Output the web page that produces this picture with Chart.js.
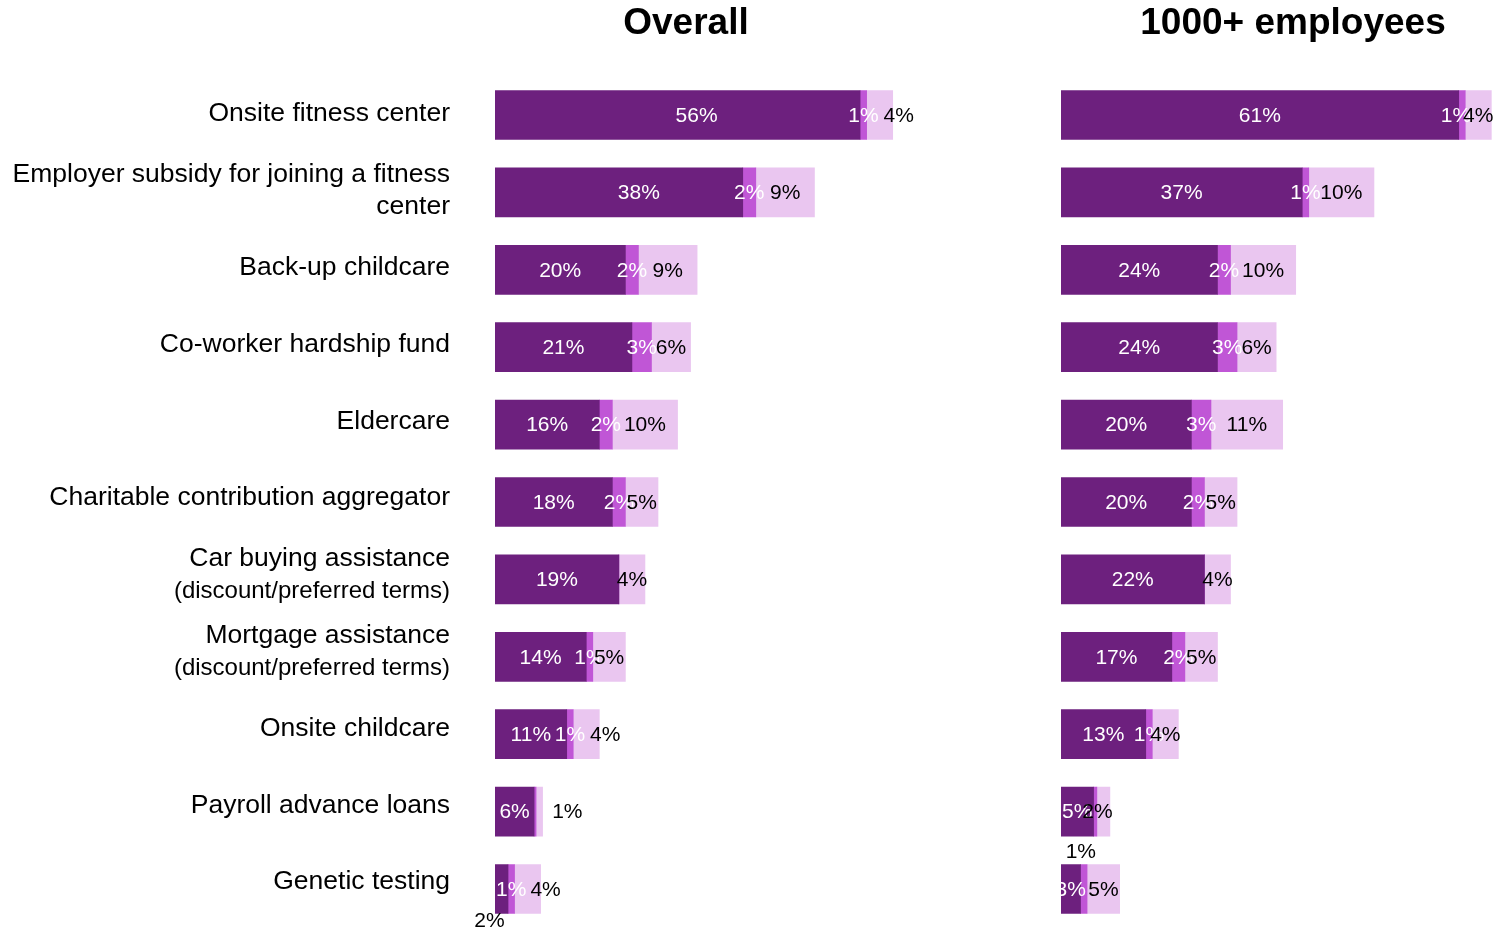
<!DOCTYPE html>
<html>
<head>
<meta charset="utf-8">
<script src="https://cdn.jsdelivr.net/npm/chart.js@4.4.1/dist/chart.umd.min.js"></script>
<style>
  html, body { margin: 0; padding: 0; background: #fff; }
  #wrap { position: relative; width: 1498px; height: 930px; overflow: hidden; }
  #left { position: absolute; left: 0; top: 0; }
  #right { position: absolute; left: 1000px; top: 0; }
</style>
</head>
<body>
<div id="wrap">
  <canvas id="left" width="1000" height="930"></canvas>
  <canvas id="right" width="498" height="930"></canvas>
</div>
<script>
// categories, each entry is the lines of its label
var categories = [
  ['Onsite fitness center'],
  ['Employer subsidy for joining a fitness', 'center'],
  ['Back-up childcare'],
  ['Co-worker hardship fund'],
  ['Eldercare'],
  ['Charitable contribution aggregator'],
  ['Car buying assistance', '(discount/preferred terms)'],
  ['Mortgage assistance', '(discount/preferred terms)'],
  ['Onsite childcare'],
  ['Payroll advance loans'],
  ['Genetic testing']
];

// Overall
var overallOffered     = [56, 38, 20, 21, 16, 18, 19, 14, 11, 6, 2];
var overallPlanned     = [1, 2, 2, 3, 2, 2, 0, 1, 1, 0.3, 1];
var overallConsidering = [4, 9, 9, 6, 10, 5, 4, 5, 4, 1, 4];

// 1000+ employees
var largeOffered     = [61, 37, 24, 24, 20, 20, 22, 17, 13, 5, 3];
var largePlanned     = [1, 1, 2, 3, 3, 2, 0, 2, 1, 0.5, 1];
var largeConsidering = [4, 10, 10, 6, 11, 5, 4, 5, 4, 2, 5];

var DARK = '#6D207E', MID = '#C056D6', LIGHT = '#EAC6F0';
var FONT = '"Liberation Sans", Arial, sans-serif';

// some labels were moved by hand in the original (dx, dy)
var leftNudges = {
  '0:0': [19, 0], '0:1': [20, 0],
  '2:0': [19, 0], '2:8': [19, 0], '2:9': [28, 0], '2:10': [18, 0],
  '0:10': [-12, 31]
};
var rightNudges = { '1:10': [-3, -38], '2:9': [-6, 0], '1:0': [-6, 0] };

var labelPlugin = {
  id: 'labels',
  afterDraw: function(chart) {
    var ctx = chart.ctx;
    var o = chart.options.plugins.labels;
    var yScale = chart.scales.y;

    ctx.save();
    // title
    ctx.font = 'bold 37px ' + FONT;
    ctx.fillStyle = '#000';
    ctx.textAlign = 'center';
    ctx.textBaseline = 'middle';
    ctx.fillText(o.title, o.titleX, 24);

    // category names
    if (o.showCats) {
      ctx.textAlign = 'right';
      categories.forEach(function(lines, i) {
        var yc = yScale.getPixelForValue(i) - 1 - i * 0.6;
        var lh = 31.5;
        var top = yc - (lines.length - 1) * lh / 2;
        lines.forEach(function(txt, k) {
          var small = txt.charAt(0) === '(';
          ctx.font = (small ? '24px ' : '26.5px ') + FONT;
          ctx.fillText(txt, 450, top + k * lh + (small ? 1 : 0));
        });
      });
    }

    // values
    ctx.font = '21px ' + FONT;
    ctx.textAlign = 'center';
    chart.data.datasets.forEach(function(ds, di) {
      var meta = chart.getDatasetMeta(di);
      meta.data.forEach(function(bar, j) {
        var v = ds.data[j];
        if (v < 1) return;
        var n = o.nudges[di + ':' + j] || [0, 0];
        // labels pushed off the bar are black
        ctx.fillStyle = (di === 2 || n[1] !== 0) ? '#000' : '#fff';
        ctx.fillText(v + '%', (bar.x + bar.base) / 2 + n[0], bar.y + 1 + n[1]);
      });
    });
    ctx.restore();
  }
};

function makeChart(id, title, titleX, offered, planned, considering, xMax, padding, nudges, showCats) {
  return new Chart(document.getElementById(id), {
    type: 'bar',
    data: {
      labels: categories.map(function(c) { return c.join(' '); }),
      datasets: [
        { label: 'Offered', data: offered, backgroundColor: DARK },
        { label: 'Planning to offer', data: planned, backgroundColor: MID },
        { label: 'Considering', data: considering, backgroundColor: LIGHT }
      ]
    },
    options: {
      indexAxis: 'y',
      responsive: false,
      animation: false,
      layout: { padding: padding },
      datasets: { bar: { barThickness: 49, borderWidth: 0 } },
      scales: {
        x: { stacked: true, display: false, min: 0, max: xMax },
        y: { stacked: true, display: false }
      },
      plugins: {
        legend: { display: false },
        tooltip: { enabled: false },
        labels: { title: title, titleX: titleX, nudges: nudges, showCats: showCats }
      }
    },
    plugins: [labelPlugin]
  });
}

makeChart('left', 'Overall', 686, overallOffered, overallPlanned, overallConsidering, 70,
  { left: 495, right: 48.6, top: 76.3, bottom: 2.3 }, leftNudges, true);
makeChart('right', '1000+ employees', 293, largeOffered, largePlanned, largeConsidering, 66.5,
  { left: 61, right: 3.4, top: 76.3, bottom: 2.3 }, rightNudges, false);
</script>
</body>
</html>
